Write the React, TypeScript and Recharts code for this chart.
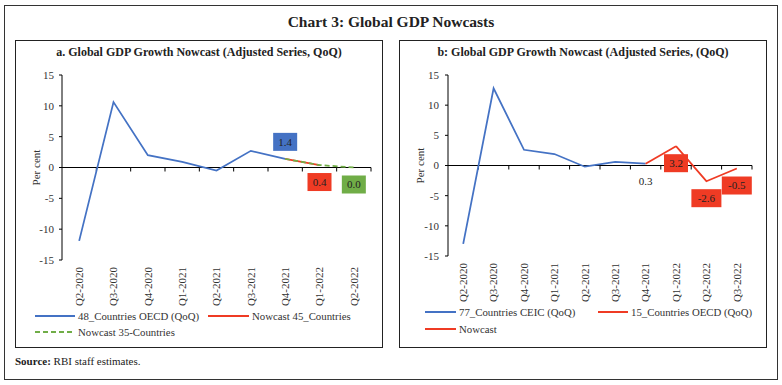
import { LineChart, Line, XAxis, YAxis, ReferenceLine, Legend, LabelList } from 'recharts';

const catsA = ['Q2-2020', 'Q3-2020', 'Q4-2020', 'Q1-2021', 'Q2-2021', 'Q3-2021', 'Q4-2021', 'Q1-2022', 'Q2-2022'];
const oecd48 = [-11.9, 10.6, 2.0, 0.9, -0.5, 2.7, 1.4, null, null];
const nowcast45 = [null, null, null, null, null, null, 1.4, 0.4, null];
const nowcast35 = [null, null, null, null, null, null, 1.4, 0.4, 0.0];

const catsB = ['Q2-2020', 'Q3-2020', 'Q4-2020', 'Q1-2021', 'Q2-2021', 'Q3-2021', 'Q4-2021', 'Q1-2022', 'Q2-2022', 'Q3-2022'];
const ceic77 = [-13.0, 12.8, 2.6, 1.9, -0.2, 0.6, 0.3, null, null, null];
const oecd15 = [null, null, null, null, null, null, 0.3, 3.2, null, null];
const nowcastB = [null, null, null, null, null, null, null, 3.2, -2.6, -0.5];

const yTicks = [-15, -10, -5, 0, 5, 10, 15];

// which points carry a value label
const labelsA = { oecd48: ['Q4-2021'], nowcast45: ['Q1-2022'], nowcast35: ['Q2-2022'] };
const labelsB = { ceic77: ['Q4-2021'], oecd15: ['Q1-2022'], nowcast: ['Q2-2022', 'Q3-2022'] };

const dataA = catsA.map((cat, i) => ({ cat, oecd48: oecd48[i], nowcast45: nowcast45[i], nowcast35: nowcast35[i] }));
const dataB = catsB.map((cat, i) => ({ cat, ceic77: ceic77[i], oecd15: oecd15[i], nowcast: nowcastB[i] }));

const FONT = "'Liberation Serif', 'DejaVu Serif', serif";
const BLUE = '#4472C4';
const RED = '#EF3B24';
const GREEN = '#70AD47';

const zeroAxis = (n: number) => (p: any) => {
  const { x1, x2, y1 } = p;
  const step = (x2 - x1) / n;
  return (
    <g>
      <line x1={x1} x2={x2} y1={y1} y2={y1} stroke="#000" strokeWidth={1} />
      {Array.from({ length: n }, (_, i) => (
        <line key={i} x1={x1 + step * (i + 1)} x2={x1 + step * (i + 1)} y1={y1} y2={y1 + 4} stroke="#000" />
      ))}
    </g>
  );
};

const boxLabel = (cats: string[], show: string[], fill: string | null, above = false) => (props: any) => {
  const { index, value } = props;
  const x = props.x ?? props.viewBox?.x;
  const y = props.y ?? props.viewBox?.y;
  if (value == null || x == null || y == null || !show.includes(cats[index])) return null;
  const text = Number(value).toFixed(1);
  const w = text.length * 6 + 6;
  const h = 18;
  const cy = above ? y - 17 : y + 17;
  return (
    <g>
      {fill && <rect x={x - w / 2} y={cy - h / 2} width={w} height={h} fill={fill} />}
      <text x={x} y={cy} dy="0.35em" textAnchor="middle" fontSize={11} fontFamily={FONT} fill="#222">
        {text}
      </text>
    </g>
  );
};

const CatTick = (props: any) => {
  const { x, y, payload } = props;
  return (
    <text x={x} y={y} dy="0.35em" transform={`rotate(-90, ${x}, ${y})`} textAnchor="end" fontSize={11} fontFamily={FONT} fill="#333">
      {payload.value}
    </text>
  );
};

function Key({ color, dash, left, top, width, label }: { color: string; dash?: string; left: number; top: number; width: number; label: string }) {
  return (
    <div style={{ position: 'absolute', left, top, height: 16, display: 'flex', alignItems: 'center', whiteSpace: 'nowrap' }}>
      <svg width={width} height={4} style={{ display: 'block' }}>
        <line x1={0} x2={width} y1={2} y2={2} stroke={color} strokeWidth={2} strokeDasharray={dash} />
      </svg>
      <span style={{ marginLeft: 3, fontSize: 10.8, fontFamily: FONT, color: '#333' }}>{label}</span>
    </div>
  );
}

const LegendA = () => (
  <div style={{ position: 'relative', width: 368, height: 34 }}>
    <Key color={BLUE} left={20} top={0} width={40} label="48_Countries OECD (QoQ)" />
    <Key color={RED} left={193} top={0} width={41} label="Nowcast 45_Countries" />
    <Key color={GREEN} dash="5 3" left={20} top={16} width={40} label="Nowcast 35-Countries" />
  </div>
);

const LegendB = () => (
  <div style={{ position: 'relative', width: 368, height: 34 }}>
    <Key color={BLUE} left={26} top={0} width={31} label="77_Countries CEIC (QoQ)" />
    <Key color={RED} left={199} top={0} width={30} label="15_Countries OECD (QoQ)" />
    <Key color={RED} left={26} top={17} width={31} label="Nowcast" />
  </div>
);

const panelTitle: React.CSSProperties = {
  position: 'absolute',
  top: 45,
  width: 368,
  textAlign: 'center',
  fontSize: 12,
  fontWeight: 'bold',
  fontFamily: FONT,
  color: '#222',
};

export default function App() {
  return (
    <div style={{ position: 'absolute', left: 0, top: 0, width: 782, height: 385, background: '#fff', fontFamily: FONT }}>
      <div style={{ position: 'absolute', left: 4, top: 5, width: 774, height: 375, border: '1px solid #333', boxSizing: 'border-box' }} />
      <div style={{ position: 'absolute', left: 4, top: 13, width: 774, textAlign: 'center', fontSize: 15.5, fontWeight: 'bold', color: '#222' }}>
        Chart 3: Global GDP Nowcasts
      </div>

      <div style={{ position: 'absolute', left: 15, top: 40, width: 368, height: 308, border: '1px solid #222', boxSizing: 'border-box' }} />
      <div style={{ ...panelTitle, left: 15 }}>a. Global GDP Growth Nowcast (Adjusted Series, QoQ)</div>
      <div style={{ position: 'absolute', left: 15, top: 62 }}>
        <LineChart width={368} height={286} data={dataA} margin={{ top: 13, right: 12, bottom: 6, left: 0 }}>
          <XAxis dataKey="cat" scale="band" interval={0} axisLine={false} tickLine={false} tickSize={4} tickMargin={3} height={48} tick={CatTick} />
          <YAxis
            domain={[-15, 15]}
            ticks={yTicks}
            interval={0}
            width={47}
            tickSize={3}
            tickMargin={5}
            axisLine={{ stroke: '#000' }}
            tickLine={{ stroke: '#000' }}
            tick={{ fontSize: 11, fill: '#333', fontFamily: FONT }}
            label={{ value: 'Per cent', angle: -90, position: 'center', dx: -2, fontSize: 11, fill: '#333', fontFamily: FONT }}
          />
          <ReferenceLine y={0} shape={zeroAxis(catsA.length)} />
          <Legend verticalAlign="bottom" align="left" content={() => <LegendA />} wrapperStyle={{ left: 0, bottom: 6, width: 368, height: 34 }} />
          <Line dataKey="oecd48" stroke={BLUE} strokeWidth={1.75} dot={false} isAnimationActive={false}>
            <LabelList dataKey="oecd48" content={boxLabel(catsA, labelsA.oecd48, BLUE, true)} />
          </Line>
          <Line dataKey="nowcast45" stroke={RED} strokeWidth={1.75} dot={false} isAnimationActive={false}>
            <LabelList dataKey="nowcast45" content={boxLabel(catsA, labelsA.nowcast45, RED)} />
          </Line>
          <Line dataKey="nowcast35" stroke={GREEN} strokeWidth={1.75} strokeDasharray="5 3" dot={false} isAnimationActive={false}>
            <LabelList dataKey="nowcast35" content={boxLabel(catsA, labelsA.nowcast35, GREEN)} />
          </Line>
        </LineChart>
      </div>

      <div style={{ position: 'absolute', left: 399, top: 40, width: 368, height: 308, border: '1px solid #222', boxSizing: 'border-box' }} />
      <div style={{ ...panelTitle, left: 399 }}>b: Global GDP Growth Nowcast (Adjusted Series, (QoQ)</div>
      <div style={{ position: 'absolute', left: 399, top: 62 }}>
        <LineChart width={368} height={286} data={dataB} margin={{ top: 13, right: 15, bottom: 10, left: 0 }}>
          <XAxis dataKey="cat" scale="band" interval={0} axisLine={false} tickLine={false} tickSize={4} tickMargin={3} height={48} tick={CatTick} />
          <YAxis
            domain={[-15, 15]}
            ticks={yTicks}
            interval={0}
            width={49}
            tickSize={3}
            tickMargin={6}
            axisLine={{ stroke: '#000' }}
            tickLine={{ stroke: '#000' }}
            tick={{ fontSize: 11, fill: '#333', fontFamily: FONT }}
            label={{ value: 'Per cent', angle: -90, position: 'center', dx: -3, fontSize: 11, fill: '#333', fontFamily: FONT }}
          />
          <ReferenceLine y={0} shape={zeroAxis(catsB.length)} />
          <Legend verticalAlign="bottom" align="left" content={() => <LegendB />} wrapperStyle={{ left: 0, bottom: 10, width: 368, height: 34 }} />
          <Line dataKey="ceic77" stroke={BLUE} strokeWidth={1.75} dot={false} isAnimationActive={false}>
            <LabelList dataKey="ceic77" content={boxLabel(catsB, labelsB.ceic77, null)} />
          </Line>
          <Line dataKey="oecd15" stroke={RED} strokeWidth={1.75} dot={false} isAnimationActive={false}>
            <LabelList dataKey="oecd15" content={boxLabel(catsB, labelsB.oecd15, RED)} />
          </Line>
          <Line dataKey="nowcast" stroke={RED} strokeWidth={1.75} dot={false} isAnimationActive={false}>
            <LabelList dataKey="nowcast" content={boxLabel(catsB, labelsB.nowcast, RED)} />
          </Line>
        </LineChart>
      </div>

      <div style={{ position: 'absolute', left: 15, top: 355, fontSize: 11, color: '#222' }}>
        <b>Source:</b> RBI staff estimates.
      </div>
    </div>
  );
}
